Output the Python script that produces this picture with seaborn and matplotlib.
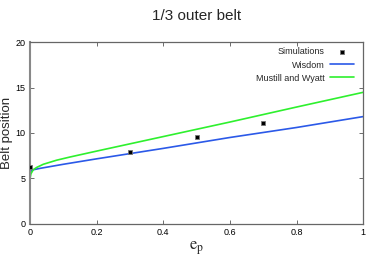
import matplotlib
matplotlib.use("Agg")
import matplotlib.pyplot as plt
import seaborn as sns

# valores
sim_e = [0.0, 0.3, 0.5, 0.7]
sim_pos = [6.3, 7.85, 9.55, 11.05]

wisdom_e = [0.0, 0.003, 0.01, 0.03, 0.1, 0.2, 0.4, 0.6, 0.8, 1.0]
wisdom_pos = [5.5, 5.8, 5.95, 6.1, 6.55, 7.15, 8.3, 9.5, 10.6, 11.8]

mw_e = [0.0, 0.003, 0.01, 0.02, 0.04, 0.08, 0.12, 0.2, 0.4, 0.6, 0.8, 1.0]
mw_pos = [4.9, 5.5, 5.95, 6.2, 6.55, 7.0, 7.35, 8.0, 9.6, 11.2, 12.85, 14.47]

sns.set_style("ticks")
plt.rcParams['font.family'] = ['Liberation Sans', 'DejaVu Sans']
plt.rcParams['mathtext.fontset'] = 'stix'

fig = plt.figure(figsize=(3.74, 2.63), dpi=100)
ax = fig.add_axes([0.080, 0.149, 0.891, 0.691])

sns.scatterplot(x=sim_e, y=sim_pos, ax=ax, marker='s', s=7, color='black',
                edgecolor='#777777', linewidth=0.6, label='Simulations', zorder=3)
sns.lineplot(x=wisdom_e, y=wisdom_pos, ax=ax, color='#2b59e8', linewidth=1.2,
             label='Wisdom', estimator=None)
sns.lineplot(x=mw_e, y=mw_pos, ax=ax, color='#2ef02e', linewidth=1.2,
             label='Mustill and Wyatt', estimator=None)

ax.set_xlim(0, 1)
ax.set_ylim(0, 20)
ax.set_xticks([0, 0.2, 0.4, 0.6, 0.8, 1])
ax.set_xticklabels(['0', '0.2', '0.4', '0.6', '0.8', '1'])
ax.set_yticks([0, 5, 10, 15, 20])
ax.tick_params(direction='in', top=True, right=True, labelsize=6.5,
               length=3, width=0.6, colors='#555555', labelcolor='black', pad=3)
for sp in ax.spines.values():
    sp.set_color('#666666')
    sp.set_linewidth(0.9)
ax.spines['left'].set_linewidth(1.5)
ax.spines['left'].set_color('#888888')

ax.set_title('1/3 outer belt', fontsize=11, pad=16)
ax.set_xlabel(r'$\mathrm{e_p}$', fontsize=12, labelpad=2)
ax.set_ylabel('Belt position', fontsize=9.5)
ax.yaxis.set_label_coords(-0.05, 0.5)

leg = ax.legend(loc='upper right', bbox_to_anchor=(0.992, 1.005), frameon=False,
                markerfirst=False, fontsize=6.5, handlelength=2.7,
                handletextpad=0.55, labelspacing=0.45, borderaxespad=0.3)

fig.savefig('out.png', dpi=100)
